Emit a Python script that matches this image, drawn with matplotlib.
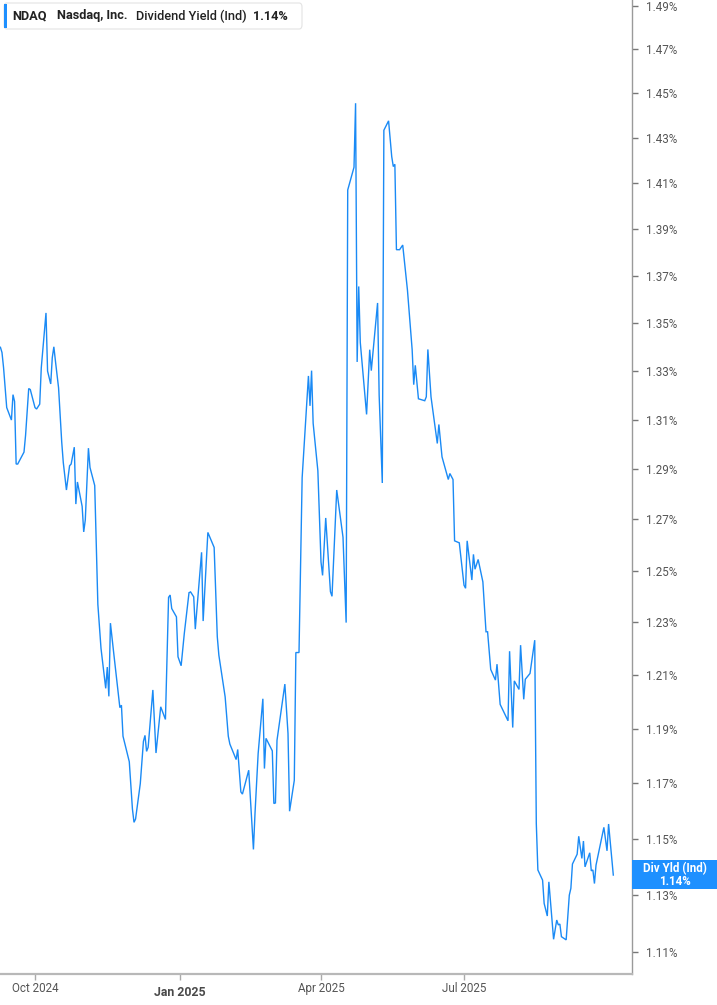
import matplotlib
matplotlib.use('Agg')
import matplotlib.pyplot as plt
import matplotlib.dates as mdates
from matplotlib.patches import FancyBboxPatch, Rectangle
from matplotlib.ticker import FixedLocator, FuncFormatter, NullLocator
import pandas as pd

# ---------------- data ----------------
dates = [
    '2024-09-09', '2024-09-10', '2024-09-11', '2024-09-13', '2024-09-16', '2024-09-17', '2024-09-18',
    '2024-09-19', '2024-09-20', '2024-09-24', '2024-09-25', '2024-09-27', '2024-09-28', '2024-10-01',
    '2024-10-02', '2024-10-04', '2024-10-05', '2024-10-08', '2024-10-09', '2024-10-11', '2024-10-12',
    '2024-10-13', '2024-10-14', '2024-10-16', '2024-10-18', '2024-10-19', '2024-10-21', '2024-10-23',
    '2024-10-24', '2024-10-26', '2024-10-27', '2024-10-28', '2024-10-31', '2024-11-01', '2024-11-02',
    '2024-11-04', '2024-11-05', '2024-11-08', '2024-11-10', '2024-11-12', '2024-11-15', '2024-11-16',
    '2024-11-17', '2024-11-18', '2024-11-20', '2024-11-24', '2024-11-25', '2024-11-26', '2024-11-30',
    '2024-12-02', '2024-12-03', '2024-12-04', '2024-12-07', '2024-12-09', '2024-12-10', '2024-12-11',
    '2024-12-12', '2024-12-15', '2024-12-17', '2024-12-20', '2024-12-23', '2024-12-25', '2024-12-26',
    '2024-12-27', '2024-12-30', '2024-12-31', '2025-01-02', '2025-01-04', '2025-01-07', '2025-01-08',
    '2025-01-10', '2025-01-11', '2025-01-15', '2025-01-16', '2025-01-19', '2025-01-23', '2025-01-25',
    '2025-01-26', '2025-01-30', '2025-02-01', '2025-02-02', '2025-02-06', '2025-02-07', '2025-02-09',
    '2025-02-10', '2025-02-14', '2025-02-17', '2025-02-18', '2025-02-20', '2025-02-22', '2025-02-23',
    '2025-02-24', '2025-02-25', '2025-03-01', '2025-03-02', '2025-03-03', '2025-03-04', '2025-03-09',
    '2025-03-11', '2025-03-12', '2025-03-15', '2025-03-16', '2025-03-18', '2025-03-20', '2025-03-24',
    '2025-03-25', '2025-03-26', '2025-03-27', '2025-03-30', '2025-04-01', '2025-04-02', '2025-04-04',
    '2025-04-07', '2025-04-08', '2025-04-11', '2025-04-15', '2025-04-17', '2025-04-18', '2025-04-22',
    '2025-04-23', '2025-04-24', '2025-04-25', '2025-04-26', '2025-04-30', '2025-05-02', '2025-05-03',
    '2025-05-07', '2025-05-08', '2025-05-10', '2025-05-11', '2025-05-14', '2025-05-16', '2025-05-17',
    '2025-05-18', '2025-05-19', '2025-05-21', '2025-05-23', '2025-05-26', '2025-05-29', '2025-05-30',
    '2025-05-31', '2025-06-02', '2025-06-06', '2025-06-07', '2025-06-08', '2025-06-10', '2025-06-14',
    '2025-06-15', '2025-06-17', '2025-06-21', '2025-06-22', '2025-06-24', '2025-06-25', '2025-06-28',
    '2025-07-01', '2025-07-02', '2025-07-03', '2025-07-06', '2025-07-07', '2025-07-08', '2025-07-10',
    '2025-07-13', '2025-07-15', '2025-07-16', '2025-07-18', '2025-07-21', '2025-07-22', '2025-07-24',
    '2025-07-29', '2025-07-30', '2025-08-01', '2025-08-02', '2025-08-05', '2025-08-06', '2025-08-08',
    '2025-08-09', '2025-08-12', '2025-08-15', '2025-08-16', '2025-08-17', '2025-08-20', '2025-08-21',
    '2025-08-23', '2025-08-24', '2025-08-27', '2025-08-29', '2025-08-30', '2025-08-31', '2025-09-01',
    '2025-09-04', '2025-09-06', '2025-09-07', '2025-09-08', '2025-09-11', '2025-09-12', '2025-09-14',
    '2025-09-15', '2025-09-16', '2025-09-19', '2025-09-20', '2025-09-21', '2025-09-22', '2025-09-23',
    '2025-09-28', '2025-09-30', '2025-10-01', '2025-10-04',
]
div_yield = [
    1.3399, 1.3377, 1.3314, 1.3150, 1.3099, 1.3203, 1.3175,
    1.2921, 1.2921, 1.2969, 1.3037, 1.3228, 1.3224, 1.3150,
    1.3144, 1.3164, 1.3314, 1.3543, 1.3300, 1.3247, 1.3356,
    1.3401, 1.3342, 1.3231, 1.3010, 1.2927, 1.2817, 1.2914,
    1.2921, 1.2989, 1.2761, 1.2849, 1.2752, 1.2651, 1.2698,
    1.2985, 1.2907, 1.2835, 1.2369, 1.2201, 1.2050, 1.2130,
    1.2020, 1.2297, 1.2188, 1.1978, 1.1987, 1.1872, 1.1778,
    1.1606, 1.1558, 1.1570, 1.1698, 1.1853, 1.1875, 1.1816,
    1.1831, 1.2044, 1.1810, 1.1981, 1.1934, 1.2396, 1.2405,
    1.2353, 1.2321, 1.2169, 1.2135, 1.2257, 1.2414, 1.2417,
    1.2398, 1.2274, 1.2571, 1.2305, 1.2649, 1.2590, 1.2245,
    1.2175, 1.2018, 1.1872, 1.1843, 1.1786, 1.1823, 1.1668,
    1.1660, 1.1747, 1.1461, 1.1590, 1.1808, 1.1946, 1.2011,
    1.1753, 1.1864, 1.1818, 1.1626, 1.1628, 1.1857, 1.2066,
    1.1882, 1.1598, 1.1710, 1.2185, 1.2185, 1.2866, 1.3280,
    1.3157, 1.3302, 1.3086, 1.2894, 1.2533, 1.2481, 1.2706,
    1.2418, 1.2400, 1.2817, 1.2630, 1.2299, 1.4071, 1.4171,
    1.4456, 1.3338, 1.3655, 1.3419, 1.3122, 1.3389, 1.3302,
    1.3585, 1.3201, 1.2845, 1.4335, 1.4377, 1.4218, 1.4174,
    1.4184, 1.3812, 1.3812, 1.3832, 1.3640, 1.3389, 1.3244,
    1.3324, 1.3186, 1.3178, 1.3194, 1.3390, 1.3194, 1.3004,
    1.3081, 1.2950, 1.2859, 1.2883, 1.2859, 1.2616, 1.2608,
    1.2443, 1.2431, 1.2616, 1.2463, 1.2563, 1.2505, 1.2543,
    1.2456, 1.2264, 1.2264, 1.2121, 1.2081, 1.2141, 1.1990,
    1.1929, 1.2190, 1.1904, 1.2078, 1.2046, 1.2213, 1.2009,
    1.2084, 1.2106, 1.2232, 1.1554, 1.1388, 1.1352, 1.1270,
    1.1226, 1.1346, 1.1145, 1.1212, 1.1195, 1.1198, 1.1154,
    1.1143, 1.1299, 1.1323, 1.1409, 1.1444, 1.1508, 1.1429,
    1.1491, 1.1399, 1.1449, 1.1385, 1.1388, 1.1340, 1.1405,
    1.1540, 1.1456, 1.1552, 1.1370,
]
y_ticks = [1.11, 1.13, 1.15, 1.17, 1.19, 1.21, 1.23, 1.25, 1.27, 1.29,
           1.31, 1.33, 1.35, 1.37, 1.39, 1.41, 1.43, 1.45, 1.47, 1.49]
x_tick_dates = ['2024-10-01', '2025-01-01', '2025-04-01', '2025-07-01']
x_tick_labels = ['Oct 2024', 'Jan 2025', 'Apr 2025', 'Jul 2025']
x_tick_bold = [False, True, False, False]
symbol = 'NDAQ'
company = 'Nasdaq, Inc.'
metric = 'Dividend Yield (Ind)'
last_value_label = '1.14%'
badge_title = 'Div Yld (Ind)'

# ---------------- style ----------------
W, H = 717, 1005
LINE = '#1a8af5'
BADGE = '#1e90ff'
FONT = ['Roboto', 'DejaVu Sans']
plt.rcParams['font.family'] = FONT

fig = plt.figure(figsize=(W / 100, H / 100), dpi=100)
fig.patch.set_facecolor('white')

def fx(px):
    return px / W

def fy(py):
    return 1 - py / H

ax = fig.add_axes([0, fy(974), fx(632), 974 / H])
ax.set_facecolor('white')

x = pd.to_datetime(dates)
ax.plot(x, div_yield, color=LINE, lw=1.0, solid_joinstyle='miter')

ax.set_yscale('log')
ax.set_ylim(1.10253, 1.49278)
t0 = pd.Timestamp('2024-10-01')
ax.set_xlim(mdates.date2num(t0 + pd.Timedelta(days=-22.27)),
            mdates.date2num(t0 + pd.Timedelta(days=379.9)))

ax.yaxis.tick_right()
ax.yaxis.set_major_locator(FixedLocator(y_ticks))
ax.yaxis.set_minor_locator(NullLocator())
ax.yaxis.set_major_formatter(FuncFormatter(lambda v, p: f'{v:.2f}%'))
ax.tick_params(axis='y', which='major', direction='out', length=4, width=1,
               color='#777777', labelsize=8.4, labelcolor='#555555', pad=6)

xt = [mdates.date2num(pd.Timestamp(d)) for d in x_tick_dates]
ax.set_xticks(xt)
ax.set_xticklabels([''] * len(xt))
ax.xaxis.set_minor_locator(NullLocator())
ax.tick_params(axis='x', direction='out', length=4, width=1, color='#aaaaaa')
for d, lab, b in zip(xt, x_tick_labels, x_tick_bold):
    ax.text(d, (974 - 992) / 974 if b else (974 - 988) / 974, lab,
            transform=ax.get_xaxis_transform(), ha='center', va='center',
            fontsize=8.9 if b else 8.4, fontweight='bold' if b else 'normal',
            color='#555555' if not b else '#4a4a4a', clip_on=False)

for s in ['left', 'top']:
    ax.spines[s].set_visible(False)
ax.spines['right'].set_color('#9a9a9a')
ax.spines['right'].set_linewidth(1.0)
ax.spines['bottom'].set_color('#b8b8b8')
ax.spines['bottom'].set_linewidth(1.6)

# ---------------- legend box ----------------
box = FancyBboxPatch((fx(4), fy(29)), fx(302) - fx(4), fy(3) - fy(29),
                     boxstyle='round,pad=0,rounding_size=0.004',
                     transform=fig.transFigure, facecolor='white',
                     edgecolor='#e3e3e3', lw=0.8, zorder=5)
fig.add_artist(box)
fig.add_artist(Rectangle((fx(4), fy(28)), fx(3), fy(4) - fy(28),
                         transform=fig.transFigure, facecolor=BADGE,
                         edgecolor='none', zorder=6))
ly = fy(16)
fig.text(fx(12), ly, symbol, fontsize=9.2, fontweight='bold', color='#222222', va='center', zorder=7)
fig.text(fx(57), ly, company, fontsize=9.2, fontweight='bold', color='#222222', va='center', zorder=7)
fig.text(fx(136), ly, metric, fontsize=9.2, fontweight='medium', color='#222222', va='center', zorder=7)
fig.text(fx(253), ly, last_value_label, fontsize=9.2, fontweight='bold', color='#222222', va='center', zorder=7)

# ---------------- last value badge ----------------
fig.add_artist(Rectangle((fx(632), fy(889)), fx(717) - fx(632), fy(860) - fy(889),
                         transform=fig.transFigure, facecolor=BADGE,
                         edgecolor='none', zorder=6))
fig.text(fx(675), fy(869), badge_title, fontsize=8.4, fontweight='bold', color='white',
         ha='center', va='center', zorder=7)
fig.text(fx(675), fy(881), last_value_label, fontsize=8.4, fontweight='bold', color='white',
         ha='center', va='center', zorder=7)

fig.savefig('out.png', dpi=100, facecolor='white')
